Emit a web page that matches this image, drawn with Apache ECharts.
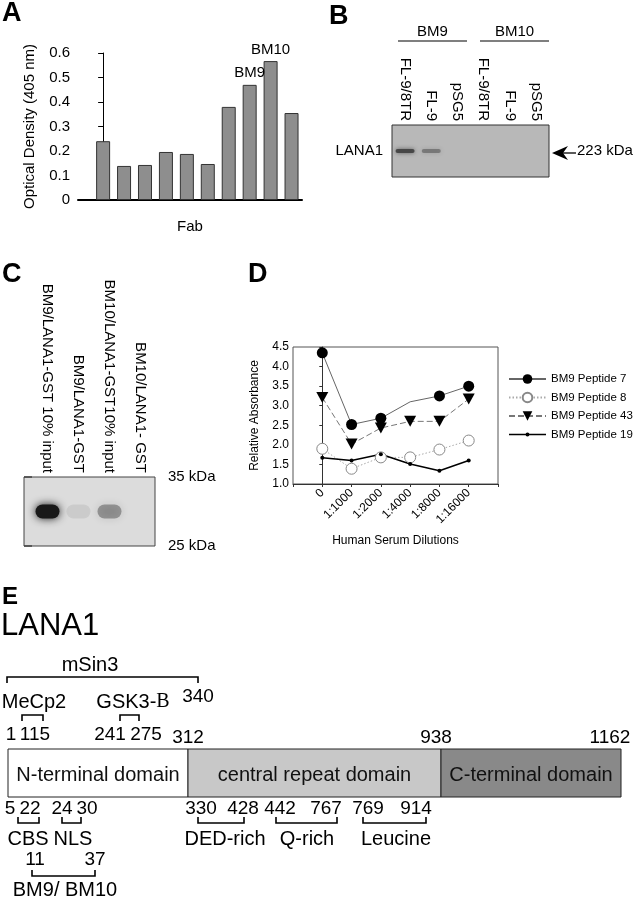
<!DOCTYPE html>
<html>
<head>
<meta charset="utf-8">
<script src="https://cdn.jsdelivr.net/npm/echarts@6/dist/echarts.min.js"></script>
<style>
html, body { margin: 0; padding: 0; background: #fff; }
#chart { width: 637px; height: 900px; }
</style>
</head>
<body>
<div id="chart"></div>
<script>
// A: Fab ELISA
const fabValues = [0.24, 0.139, 0.143, 0.196, 0.188, 0.147, 0.38, 0.47, 0.567, 0.355]
const fabLabels = ['', '', '', '', '', '', '', 'BM9', 'BM10', '']

// B: western blot
const blotBGroups = ['BM9', 'BM10']
const blotBLanes = ['FL-9/8TR', 'FL-9', 'pSG5', 'FL-9/8TR', 'FL-9', 'pSG5']
const blotBBand = [0.85, 0.45, 0, 0, 0, 0]

// C: pull-down blot
const blotCLanes = ['BM9/LANA1-GST 10% input', 'BM9/LANA1-GST', 'BM10/LANA1-GST10% input', 'BM10/LANA1- GST']
const blotCBand = [1, 0.08, 0.35, 0]
const blotCMarkers = [25, 35]

// D: peptide ELISA
const dilutions = ['0', '1:1000', '1:2000', '1:4000', '1:8000', '1:16000']
const peptide7 = [4.35, 2.52, 2.68, 3.1, 3.25, 3.5]
const peptide7Marked = [1, 1, 1, 0, 1, 1]
const peptide8 = [1.9, 1.39, 1.68, 1.68, 1.88, 2.11]
const peptide43 = [3.21, 2.02, 2.43, 2.6, 2.6, 3.17]
const peptide19 = [1.67, 1.6, 1.76, 1.51, 1.34, 1.6]

// E: LANA1 domains and motifs (residues)
const domains = [['N-terminal domain', 1, 312], ['central repeat domain', 312, 938], ['C-terminal domain', 938, 1162]]
const upperFeatures = [['mSin3', 1, 340], ['MeCp2', 1, 115], ['GSK3-B', 241, 275]]
const lowerFeatures = [['CBS', 5, 22], ['NLS', 24, 30], ['DED-rich', 330, 428], ['Q-rich', 442, 767], ['Leucine', 769, 914], ['BM9/ BM10', 11, 37]]

// schematic placement for panel E (not to scale)
const domainEdges = [8, 188, 441, 621]
const domainFill = ['#ffffff', '#c8c8c8', '#898989']
const featureLayout = {
  'mSin3': { x0: 7, x1: 198, by: 677, dir: 1, lx: 90, ly: 665, ny: 697, nx: [null, 198] },
  'MeCp2': { x0: 22, x1: 43, by: 715, dir: 1, lx: 34, ly: 702, ny: 735, nx: [11, 35] },
  'GSK3-B': { x0: 120, x1: 139, by: 715, dir: 1, lx: 133, ly: 702, ny: 735, nx: [110, 146] },
  'CBS': { x0: 18, x1: 39, by: 823, dir: -1, lx: 28, ly: 839, ny: 809, nx: [10, 30] },
  'NLS': { x0: 62, x1: 81, by: 823, dir: -1, lx: 73, ly: 839, ny: 809, nx: [62, 87] },
  'DED-rich': { x0: 198, x1: 244, by: 823, dir: -1, lx: 225, ly: 839, ny: 809, nx: [201, 243] },
  'Q-rich': { x0: 276, x1: 337, by: 823, dir: -1, lx: 307, ly: 839, ny: 809, nx: [280, 326] },
  'Leucine': { x0: 363, x1: 426, by: 823, dir: -1, lx: 396, ly: 839, ny: 809, nx: [368, 416] },
  'BM9/ BM10': { x0: 32, x1: 95, by: 876, dir: -1, lx: 65, ly: 890, ny: 860, nx: [35, 95] }
}

const FONT = 'Liberation Sans, Arial, Helvetica, sans-serif'

function txt(s, x, y, size, extra) {
  return {
    type: 'text', x: x, y: y,
    style: Object.assign({ text: s, fill: '#000', fontSize: size, fontFamily: FONT, align: 'center', verticalAlign: 'middle' }, extra || {})
  }
}

function bracket(l) {
  const leg = 6 * l.dir
  return {
    type: 'polyline',
    shape: { points: [[l.x0, l.by + leg], [l.x0, l.by], [l.x1, l.by], [l.x1, l.by + leg]] },
    style: { stroke: '#000', lineWidth: 1.6, fill: null }
  }
}

function buildDiagram() {
  const els = []
  els.push(txt('LANA1', 1, 626, 31, { align: 'left' }))
  domains.forEach((d, i) => {
    els.push({
      type: 'rect',
      shape: { x: domainEdges[i], y: 749, width: domainEdges[i + 1] - domainEdges[i], height: 48 },
      style: { fill: domainFill[i], stroke: '#222', lineWidth: 1 }
    })
    els.push(txt(d[0], (domainEdges[i] + domainEdges[i + 1]) / 2, 775, 20, { fill: '#111' }))
    els.push(txt(String(d[2]), domainEdges[i + 1] - (i === 2 ? 11 : 0) + (i === 1 ? -5 : 0), 738, 19))
  })
  upperFeatures.concat(lowerFeatures).forEach(f => {
    const l = featureLayout[f[0]]
    els.push(bracket(l))
    if (f[0] === 'GSK3-B') {
      els.push(txt('GSK3-{s|B}', l.lx, l.ly, 20, { rich: { s: { fontFamily: 'Liberation Serif, serif', fontSize: 20 } } }))
    } else {
      els.push(txt(f[0], l.lx, l.ly, 20))
    }
    if (l.nx[0] !== null) els.push(txt(String(f[1]), l.nx[0], l.ny, 19))
    els.push(txt(String(f[2]), l.nx[1], l.ny, 19))
  })
  return els
}

function buildBlotLabels() {
  const els = []
  const groupX = [[398, 467], [480, 549]]
  blotBGroups.forEach((g, i) => {
    els.push(txt(g, (groupX[i][0] + groupX[i][1]) / 2, 32, 15))
    els.push({ type: 'line', shape: { x1: groupX[i][0], y1: 41, x2: groupX[i][1], y2: 41 }, style: { stroke: '#555', lineWidth: 1.5 } })
  })
  // arrow to 223 kDa
  els.push({ type: 'polygon', shape: { points: [[552, 153], [568, 146], [563, 153], [568, 160]] }, style: { fill: '#000' } })
  els.push({ type: 'line', shape: { x1: 562, y1: 153, x2: 576, y2: 153 }, style: { stroke: '#000', lineWidth: 1.3 } })
  return els
}

function bandRenderer(w, h, blur, color) {
  return function (params, api) {
    const p = api.coord([api.value(0), 0])
    const a = api.value(1)
    return {
      type: 'rect',
      shape: { x: p[0] - w / 2, y: p[1] - h / 2, width: w, height: h, r: h / 2 },
      style: { fill: 'rgba(' + color + ',' + a + ')', shadowBlur: blur, shadowColor: 'rgba(' + color + ',' + a + ')' }
    }
  }
}

const hidden = { show: false }
const blackLine = { show: true, lineStyle: { color: '#000', width: 1 } }
// line with a small dot, used as legend icon for peptide 19
const smallDotIcon = 'path://M0,0H0.01V0.01H0Z M0,12H0.01V11.99H0Z M0,5.3H37V6.7H0Z M18.5,4A2,2 0 1,1 18.5,8A2,2 0 1,1 18.5,4Z'

const option = {
  animation: false,
  backgroundColor: '#fff',
  textStyle: { fontFamily: FONT, color: '#000' },
  title: [
    { text: 'A', left: 2, top: 0 },
    { text: 'B', left: 329, top: 3 },
    { text: 'C', left: 2, top: 261 },
    { text: 'D', left: 248, top: 261 },
    { text: 'E', left: 2, top: 585, textStyle: { fontSize: 24, fontWeight: 'bold', color: '#000', fontFamily: FONT } }
  ].map(t => Object.assign({ padding: 0, textStyle: { fontSize: 27, fontWeight: 'bold', color: '#000', fontFamily: FONT } }, t)),
  grid: [
    { left: 78, top: 53, width: 224, height: 147 },
    { left: 392, top: 125, width: 157, height: 52, show: true, backgroundColor: '#b8b8b8', borderColor: '#333', borderWidth: 1 },
    { left: 24, top: 477, width: 131, height: 69, show: true, backgroundColor: '#dcdcdc', borderColor: '#444', borderWidth: 1 },
    { left: 32, top: 477, width: 124, height: 69 },
    { left: 293, top: 347, width: 205, height: 137, show: true, borderColor: '#555', borderWidth: 1 }
  ],
  xAxis: [
    { gridIndex: 0, type: 'value', min: -1.2, max: 9.5, axisLabel: hidden, axisTick: hidden, splitLine: hidden,
      axisLine: { show: true, lineStyle: { color: '#000', width: 2 } },
      name: 'Fab', nameLocation: 'middle', nameGap: 19, nameTextStyle: { fontSize: 15, color: '#000' } },
    { gridIndex: 1, type: 'category', position: 'top', data: blotBLanes, axisLine: hidden, axisTick: hidden,
      axisLabel: { rotate: 90, margin: 4, fontSize: 15, color: '#000', interval: 0 } },
    { gridIndex: 2, type: 'value', min: 0, max: 1, show: false },
    { gridIndex: 3, type: 'category', position: 'top', data: blotCLanes, axisLine: hidden, axisTick: hidden,
      axisLabel: { rotate: 90, margin: 4, fontSize: 15, color: '#000', interval: 0 } },
    { gridIndex: 4, type: 'value', min: -1, max: 6, interval: 1, splitLine: hidden,
      axisLine: { show: true, lineStyle: { color: '#333' } },
      axisTick: { show: true, length: 3, lineStyle: { color: '#333' } },
      axisLabel: { rotate: 45, fontSize: 12, color: '#000', margin: 7, formatter: v => dilutions[v] !== undefined ? dilutions[v] : '' },
      name: 'Human Serum Dilutions', nameLocation: 'middle', nameGap: 51, nameTextStyle: { fontSize: 12, color: '#000' } }
  ],
  yAxis: [
    { gridIndex: 0, type: 'value', min: 0, max: 0.6, interval: 0.1, splitLine: hidden,
      axisLine: blackLine, axisTick: { show: true, length: 5, lineStyle: { color: '#000' } },
      axisLabel: { fontSize: 15, color: '#000', margin: 8, formatter: v => v === 0 ? '0' : v.toFixed(1) },
      name: 'Optical Density (405 nm)', nameLocation: 'middle', nameGap: 41, nameTextStyle: { fontSize: 15, color: '#000' } },
    { gridIndex: 1, type: 'category', data: ['LANA1'], axisLine: hidden, axisTick: hidden,
      axisLabel: { fontSize: 15, color: '#000', margin: 9 } },
    { gridIndex: 1, type: 'category', position: 'right', data: ['223 kDa'], axisLine: hidden, axisTick: hidden,
      axisLabel: { fontSize: 15, color: '#000', margin: 28 } },
    { gridIndex: 2, type: 'value', position: 'right', min: blotCMarkers[0], max: blotCMarkers[1], interval: 10,
      splitLine: hidden, axisLine: hidden,
      axisTick: { show: true, length: 8, inside: false, lineStyle: { color: '#444', width: 1.5 } },
      axisLabel: { fontSize: 15, color: '#000', margin: 13, formatter: '{value} kDa' } },
    { gridIndex: 3, type: 'category', data: ['band'], show: false },
    { gridIndex: 4, type: 'value', min: 1, max: 4.5, interval: 0.5, splitLine: hidden,
      axisLine: { show: true, lineStyle: { color: '#333' } },
      axisTick: { show: true, length: 3, lineStyle: { color: '#333' } },
      axisLabel: { fontSize: 12, color: '#000', margin: 4, formatter: v => v.toFixed(1) },
      name: 'Relative Absorbance', nameLocation: 'middle', nameGap: 32, nameTextStyle: { fontSize: 12, color: '#000' } }
  ],
  legend: {
    orient: 'vertical', left: 508, top: 373, padding: 0, itemWidth: 37, itemHeight: 12, itemGap: 6.5, itemTextGap: 4,
    textStyle: { fontSize: 11.5, color: '#000', overflow: 'none' },
    data: ['BM9 Peptide 7', 'BM9 Peptide 8', 'BM9 Peptide 43', { name: 'BM9 Peptide 19', icon: smallDotIcon }]
  },
  series: [
    { type: 'bar', xAxisIndex: 0, yAxisIndex: 0, barWidth: 14,
      data: fabValues.map((v, i) => [i, v]),
      itemStyle: { color: '#8e8e8e', borderColor: '#333', borderWidth: 1 },
      label: { show: true, position: 'top', distance: 4, fontSize: 15, color: '#000', formatter: p => fabLabels[p.dataIndex] } },
    { type: 'custom', xAxisIndex: 1, yAxisIndex: 1, data: blotBBand.map((v, i) => [i, v]),
      renderItem: bandRenderer(19, 4, 4, '60,60,60') },
    { type: 'custom', xAxisIndex: 3, yAxisIndex: 4, data: blotCBand.map((v, i) => [i, v]),
      renderItem: bandRenderer(24, 14, 9, '25,25,25') },
    { name: 'BM9 Peptide 7', type: 'line', xAxisIndex: 4, yAxisIndex: 5,
      data: peptide7.map((v, i) => peptide7Marked[i] ? [i, v] : { value: [i, v], symbol: 'none' }),
      symbol: 'circle', symbolSize: 11, lineStyle: { color: '#666', width: 1 }, itemStyle: { color: '#000' } },
    { name: 'BM9 Peptide 8', type: 'line', xAxisIndex: 4, yAxisIndex: 5, data: peptide8.map((v, i) => [i, v]),
      symbol: 'circle', symbolSize: 11, lineStyle: { color: '#aaa', width: 1, type: [1.5, 2] },
      itemStyle: { color: '#fff', borderColor: '#888', borderWidth: 1 } },
    { name: 'BM9 Peptide 43', type: 'line', xAxisIndex: 4, yAxisIndex: 5, data: peptide43.map((v, i) => [i, v]),
      symbol: 'path://M0,0 L10,0 L5,9 Z', symbolSize: [12, 11], lineStyle: { color: '#777', width: 1, type: [6, 3] },
      itemStyle: { color: '#000' } },
    { name: 'BM9 Peptide 19', type: 'line', xAxisIndex: 4, yAxisIndex: 5, data: peptide19.map((v, i) => [i, v]),
      symbol: 'circle', symbolSize: 4, lineStyle: { color: '#000', width: 1.5 }, itemStyle: { color: '#000' } }
  ],
  graphic: buildBlotLabels().concat(buildDiagram())
}

const chart = echarts.init(document.getElementById('chart'))
chart.setOption(option)
window.onresize = function () { chart.resize() }
</script>
</body>
</html>
